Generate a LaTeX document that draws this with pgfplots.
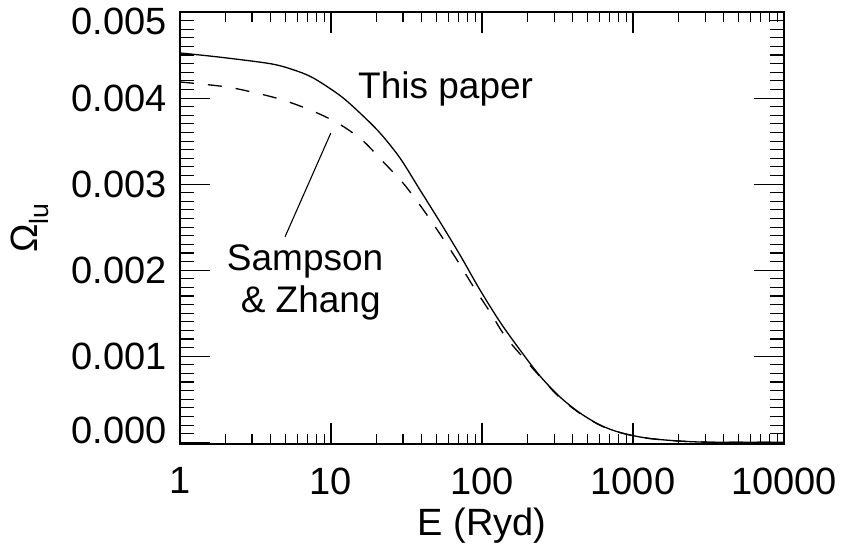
\documentclass[border=0pt]{standalone}
\usepackage{pgfplots}
\pgfplotsset{compat=1.18}
\usepackage{fontspec}
\setmainfont{Liberation Sans}

\begin{document}
\begin{tikzpicture}
\useasboundingbox (-180pt,-101pt) rectangle (663pt,444pt);
\begin{axis}[
  at={(0pt,0pt)}, anchor=south west,
  scale only axis,
  width=604pt, height=432pt,
  xmode=log, xmin=1, xmax=10000,
  ymin=-0.00002, ymax=0.005,
  xtick={1,10,100,1000,10000},
  xticklabels={1,10,100,1000,10000},
  ytick={0,0.001,0.002,0.003,0.004,0.005},
  yticklabels={\raisebox{12.6pt}[27pt][0pt]{0.000},0.001,0.002,0.003,0.004,\raisebox{-9.3pt}[27pt][0pt]{0.005}},
  minor y tick num=9,
  scaled y ticks=false,
  /pgf/number format/assume math mode=true,
  tick align=inside,
  major tick length=30pt, minor tick length=14pt,
  xtick style={/pgfplots/major tick length=20.7pt, /pgfplots/minor tick length=10pt},
  tick style={black, line width=1.1pt},
  axis line style={black, line width=1.4pt},
  tick label style={font=\fontsize{38}{44}\selectfont},
  xticklabel style={inner sep=0pt, anchor=north, yshift=-23.4pt},
  yticklabel style={inner sep=0pt, anchor=east, xshift=-13.3pt},
  xlabel={E (Ryd)},
  xlabel style={at={(axis description cs:0.5,-0.2123)}, anchor=base, inner sep=0pt, font=\fontsize{38}{44}\selectfont},
  ylabel={Ω\textsubscript{lu}},
  ylabel style={at={(axis description cs:-0.2351,0.5)}, anchor=base, inner sep=0pt, font=\fontsize{38}{44}\selectfont},
]
% This paper (solid)
\addplot[black, line width=1.3pt, smooth, tension=0.5] coordinates {
(1,0.004524) (1.840,0.004475) (3.945,0.004400) (5.6,0.004330) (7.60,0.004235) (11.47,0.004030)
(15.56,0.003826) (21.11,0.003594) (28.64,0.003303) (38.86,0.002932) (52.72,0.002560)
(71.52,0.002176) (97.00,0.001770) (131.6,0.001398) (178.5,0.001073) (242.2,0.000770)
(328.6,0.000526) (445.7,0.000340) (604.7,0.000201) (820.3,0.000114) (1296,0.000044)
(2778,0.000003) (10000,0.000000)
};
% Sampson & Zhang (dashed)
\addplot[black, line width=1.3pt, dash pattern=on 14pt off 14pt, smooth, tension=0.5] coordinates {
(1,0.004187) (1.987,0.004132) (3.139,0.004062) (4.810,0.003977) (7.483,0.003853)
(11.13,0.003707) (16.05,0.003513) (22.10,0.003261) (29.99,0.003013) (40.06,0.002723)
(52.72,0.002420) (68.31,0.002118) (87.19,0.001816) (113.0,0.001514) (142.0,0.001235)
(198.6,0.000933) (261.3,0.000700) (328.6,0.000515) (445.7,0.000335) (604.7,0.000198)
(820.3,0.000112) (1296,0.000043) (2778,0.000003) (10000,0.000000)
};
\draw[black, line width=1.1pt] (axis cs:4.96,0.002387) -- (axis cs:9.97,0.003593);
\node[anchor=base west, inner sep=0pt, font=\fontsize{37}{44}\selectfont] at (axis cs:15.1,0.003992) {This paper};
\node[anchor=base west, inner sep=0pt, font=\fontsize{37}{44}\selectfont] at (axis cs:2.04,0.0019953) {Sampson};
\node[anchor=base west, inner sep=0pt, font=\fontsize{37}{44}\selectfont] at (axis cs:2.52,0.001507) {\& Zhang};
\end{axis}
\end{tikzpicture}
\end{document}
